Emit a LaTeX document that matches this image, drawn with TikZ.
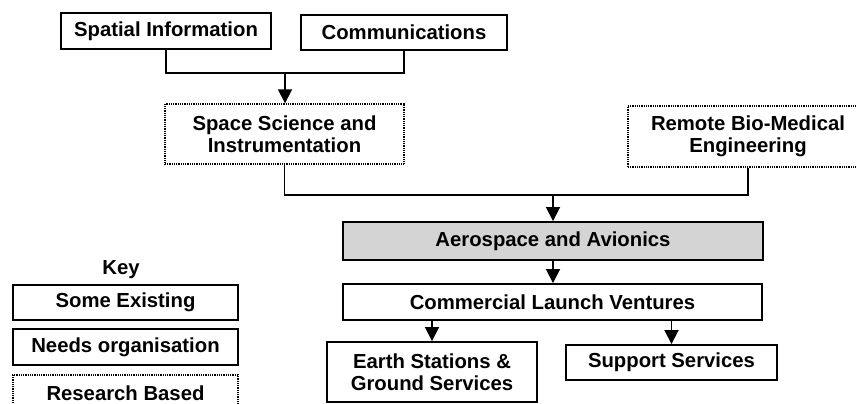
\documentclass[tikz,border=0pt]{standalone}
\usepackage{fontspec}
\setmainfont{Liberation Sans}
\usetikzlibrary{arrows.meta}
\begin{document}
\begin{tikzpicture}[x=1pt,y=-1pt,
  every node/.style={font=\bfseries\fontsize{20.3}{22.5}\selectfont, align=center, inner sep=0pt},
  solidbox/.style={draw=black, line width=1.9pt, fill=white},
  dotbox/.style={draw=black, line width=1.4pt, dash pattern=on 1pt off 0.8pt, fill=white},
  shadebox/.style={draw=black, line width=1.9pt, fill=black!17},
  link/.style={line width=1.8pt},
  arr/.style={line width=1.8pt, -{Triangle[length=14pt,width=14pt]}}]
\useasboundingbox (0,0) rectangle (857,404);

% top row
\node[solidbox, minimum width=210pt, minimum height=36pt] (sp) at (166,31) {Spatial Information};
\node[solidbox, minimum width=206pt, minimum height=35pt] (cm) at (404,32.5) {Communications};

% research-based areas
\node[dotbox, minimum width=239pt, minimum height=60pt] (ssi) at (284.5,134) {Space Science and\\Instrumentation};
\node[dotbox, minimum width=240pt, minimum height=61pt] (rbm) at (748,136.5) {Remote Bio-Medical\\Engineering};

% core industry
\node[shadebox, minimum width=420pt, minimum height=38pt] (aa) at (553,241) {Aerospace and Avionics};
\node[solidbox, minimum width=419pt, minimum height=36pt] (clv) at (552.5,302) {Commercial Launch Ventures};
\node[solidbox, minimum width=210pt, minimum height=60pt] (es) at (432,372) {Earth Stations \&\\Ground Services};
\node[solidbox, minimum width=211pt, minimum height=35pt] (ss) at (671.5,362.5) {Support Services};

% key
\node (key) at (121,270) {Key};
\node[solidbox, minimum width=225pt, minimum height=35pt] (k1) at (125.5,302.5) {Some Existing};
\node[solidbox, minimum width=225pt, minimum height=36pt] (k2) at (125.5,347) {Needs organisation};
\node[dotbox, minimum width=225pt, minimum height=36pt] (k3) at (125.5,393) {Research Based};

% junctions
\coordinate (j1) at (285,73);
\coordinate (j2) at (553,195);

% connectors
\draw[link] (sp.south) |- (j1) -| (cm.south);
\draw[arr] (j1) -- (ssi.north -| j1);
\draw[link] (ssi.south) |- (j2) -| (rbm.south);
\draw[arr] (j2) -- (aa.north -| j2);
\draw[arr] (aa.south) -- (clv.north -| aa.south);
\draw[arr] (clv.south -| es.north) -- (es.north);
\draw[arr] (clv.south -| ss.north) -- (ss.north);
\end{tikzpicture}
\end{document}
